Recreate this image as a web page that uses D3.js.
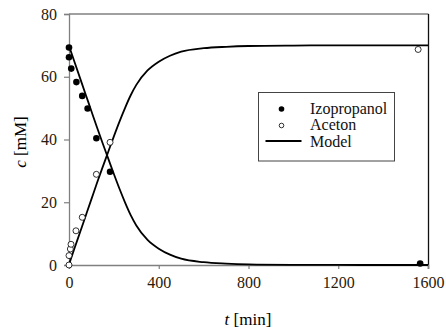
<!DOCTYPE html>
<html>
<head>
<meta charset="utf-8">
<script src="https://cdn.jsdelivr.net/npm/d3@7"></script>
<style>
  body { margin: 0; background: #fff; }
</style>
</head>
<body>
<svg id="chart" width="446" height="331"></svg>
<script>
// measured points
const izoT = [0, 0, 10, 33, 59, 83, 122, 183, 1565];
const izoC = [69.3, 66.2, 62.6, 58.3, 53.9, 49.9, 40.4, 29.7, 0.5];
const aceT = [0, 0, 6, 9, 31, 59, 122, 183, 1556];
const aceC = [0, 3.0, 5.1, 6.6, 10.9, 15.2, 28.9, 39.1, 68.7];

// model curves
const modelT = [0, 25, 50, 75, 100, 125, 150, 175, 200, 225, 250, 275, 300, 350, 400, 450, 500, 600, 700, 800, 1000, 1200, 1400, 1600];
const modelIzo = [69.8, 64.6, 59.4, 54.2, 49.0, 43.8, 38.8, 33.9, 29.0, 24.3, 19.9, 15.9, 12.6, 8.0, 5.2, 3.3, 2.0, 0.9, 0.45, 0.2, 0.05, 0.01, 0, 0];
const modelAce = [0.2, 5.4, 10.6, 15.8, 21.0, 26.2, 31.2, 36.1, 41.0, 45.7, 50.1, 54.1, 57.4, 62.0, 64.8, 66.7, 68.0, 69.1, 69.55, 69.8, 69.95, 70, 70, 70];

const xTicks = [0, 400, 800, 1200, 1600];
const yTicks = [0, 20, 40, 60, 80];
const legendLabels = ["Izopropanol", "Aceton", "Model"];

const serif = "'Liberation Serif', 'Times New Roman', serif";
const svg = d3.select("#chart");
const x = d3.scaleLinear().domain([0, 1600]).range([69, 428]);
const y = d3.scaleLinear().domain([0, 80]).range([265, 14]);

// frame: top gray, right black
svg.append("line").attr("x1", 69).attr("x2", 428.5).attr("y1", 14).attr("y2", 14)
  .attr("stroke", "#808080").attr("stroke-width", 1.3);
svg.append("line").attr("x1", 428.5).attr("x2", 428.5).attr("y1", 14).attr("y2", 269)
  .attr("stroke", "#111").attr("stroke-width", 1.3);

// axes
const xAxis = svg.append("g").attr("transform", "translate(0,265)")
  .call(d3.axisBottom(x).tickValues(xTicks).tickSize(4).tickPadding(8).tickFormat(d3.format("d")));
const yAxis = svg.append("g").attr("transform", "translate(69,0)")
  .call(d3.axisLeft(y).tickValues(yTicks).tickSize(5).tickPadding(7));
[xAxis, yAxis].forEach(a => {
  a.attr("font-family", null);
  a.select(".domain").attr("stroke", "#808080").attr("stroke-width", 1.3);
  a.selectAll(".tick line").attr("stroke", "#808080").attr("stroke-width", 1.2);
  a.selectAll("text").style("font-family", serif).style("font-size", "16px").attr("fill", "#2a1a0a");
});

// axis titles
svg.append("text").attr("x", 248).attr("y", 325).attr("text-anchor", "middle")
  .style("font-family", serif).style("font-size", "17px")
  .html('<tspan font-style="italic">t</tspan> [min]');
svg.append("text").attr("transform", "translate(26,142) rotate(-90)").attr("text-anchor", "middle")
  .style("font-family", serif).style("font-size", "17px")
  .html('<tspan font-style="italic">c</tspan> [mM]');

// model lines
const line = d3.line().x(d => x(d[0])).y(d => y(d[1])).curve(d3.curveMonotoneX);
[modelIzo, modelAce].forEach(vals => {
  svg.append("path")
    .datum(modelT.map((t, i) => [t, vals[i]]))
    .attr("fill", "none").attr("stroke", "#000").attr("stroke-width", 1.8)
    .attr("d", line);
});

// points
svg.selectAll("circle.izo").data(izoT.map((t, i) => [t, izoC[i]]))
  .enter().append("circle").attr("class", "izo")
  .attr("cx", d => x(d[0])).attr("cy", d => y(d[1])).attr("r", 3.3)
  .attr("fill", "#000");
svg.selectAll("circle.ace").data(aceT.map((t, i) => [t, aceC[i]]))
  .enter().append("circle").attr("class", "ace")
  .attr("cx", d => x(d[0])).attr("cy", d => y(d[1])).attr("r", 3)
  .attr("fill", "#fff").attr("stroke", "#000").attr("stroke-width", 0.8);

// legend
const lg = svg.append("g").attr("transform", "translate(258.5,92.5)");
lg.append("rect").attr("width", 136).attr("height", 68.5)
  .attr("fill", "#fff").attr("stroke", "#444").attr("stroke-width", 1);
lg.append("circle").attr("cx", 23).attr("cy", 16.5).attr("r", 2.8).attr("fill", "#000");
lg.append("circle").attr("cx", 23).attr("cy", 33).attr("r", 2.3)
  .attr("fill", "#fff").attr("stroke", "#000").attr("stroke-width", 0.8);
lg.append("line").attr("x1", 7).attr("x2", 43).attr("y1", 48.5).attr("y2", 48.5)
  .attr("stroke", "#000").attr("stroke-width", 1.8);
legendLabels.forEach((lab, i) => {
  lg.append("text").attr("x", 51.5).attr("y", 21.5 + i * 16.3)
    .style("font-family", serif).style("font-size", "16px").attr("fill", "#111").text(lab);
});
</script>
</body>
</html>
